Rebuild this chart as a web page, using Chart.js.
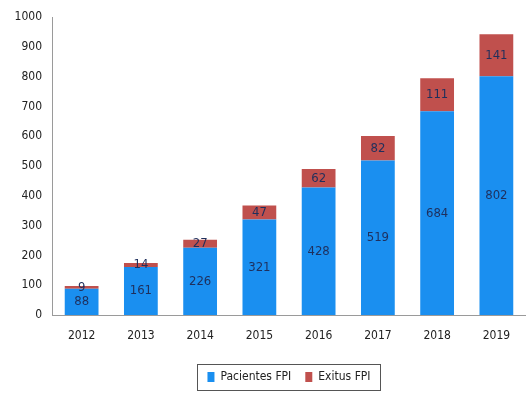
<!DOCTYPE html>
<html lang="es">
<head>
<meta charset="UTF-8">
<title>Pacientes FPI / Exitus FPI</title>
<script src="https://cdn.jsdelivr.net/npm/chart.js"></script>
<style>
    * { margin: 0; padding: 0; box-sizing: border-box; }
    body { background: #fff; width: 526px; height: 397px; overflow: hidden; }
    #chart { display: block; }
</style>
</head>
<body>
<canvas id="chart" width="526" height="397"></canvas>
<script>
    const years = ["2012", "2013", "2014", "2015", "2016", "2017", "2018", "2019"];
    const pacientes = [88, 161, 226, 321, 428, 519, 684, 802];
    const exitus = [9, 14, 27, 47, 62, 82, 111, 141];
    const yTicks = [0, 100, 200, 300, 400, 500, 600, 700, 800, 900, 1000];

    const FONT = "'Liberation Sans Narrow', 'DejaVu Sans Condensed', sans-serif";

    // writes each value inside its bar segment
    const segmentLabels = {
        id: "segmentLabels",
        afterDatasetsDraw(chart) {
            const ctx = chart.ctx;
            ctx.save();
            ctx.fillStyle = "#1f2f5c";
            ctx.font = "13px " + FONT;
            ctx.textAlign = "center";
            ctx.textBaseline = "middle";
            chart.data.datasets.forEach((ds, i) => {
                chart.getDatasetMeta(i).data.forEach((bar, j) => {
                    const mid = (bar.y + bar.base) / 2;
                    ctx.fillText(ds.data[j], bar.x, mid);
                });
            });
            ctx.restore();
        }
    };

    // centre the legend under the plot area instead of the whole canvas
    const legendShift = {
        id: "legendShift",
        afterLayout(chart) {
            const lg = chart.legend;
            const dx = (chart.chartArea.left + chart.chartArea.right) / 2 - (lg.left + lg.right) / 2;
            lg.left += dx;
            lg.right += dx;
        }
    };

    // thin frame round the legend
    const legendFrame = {
        id: "legendFrame",
        afterDraw(chart) {
            const boxes = chart.legend.legendHitBoxes;
            if (!boxes || !boxes.length) return;
            const left = Math.min(...boxes.map(b => b.left)) - 10;
            const right = Math.max(...boxes.map(b => b.left + b.width)) + 10;
            const top = Math.min(...boxes.map(b => b.top)) - 7;
            const bottom = Math.max(...boxes.map(b => b.top + b.height)) + 7;
            const ctx = chart.ctx;
            ctx.save();
            ctx.strokeStyle = "#555";
            ctx.lineWidth = 1;
            ctx.strokeRect(Math.round(left) + 0.5, Math.round(top) + 0.5, Math.round(right - left), Math.round(bottom - top));
            ctx.restore();
        }
    };

    new Chart(document.getElementById("chart"), {
        type: "bar",
        data: {
            labels: years,
            datasets: [
                { label: "Pacientes FPI", data: pacientes, backgroundColor: "#1a8ff0" },
                { label: "Exitus FPI", data: exitus, backgroundColor: "#c0504d" }
            ]
        },
        options: {
            responsive: false,
            animation: false,
            layout: { padding: { top: 8, right: 0, bottom: 4, left: 0 } },
            datasets: { bar: { categoryPercentage: 1, barPercentage: 0.57 } },
            plugins: {
                tooltip: { enabled: false },
                legend: {
                    position: "bottom",
                    labels: {
                        boxWidth: 7,
                        boxHeight: 10,
                        padding: 14,
                        color: "#222",
                        font: { family: FONT, size: 12 }
                    }
                }
            },
            scales: {
                x: {
                    stacked: true,
                    grid: { display: false, drawTicks: false },
                    border: { color: "#9a9a9a", width: 1 },
                    ticks: { color: "#222", padding: 14, font: { family: FONT, size: 12 } },
                    afterFit(scale) { scale.height = 42; }
                },
                y: {
                    stacked: true,
                    min: 0,
                    max: 1000,
                    grid: { display: false, drawTicks: false },
                    border: { color: "#9a9a9a", width: 1 },
                    afterBuildTicks(scale) { scale.ticks = yTicks.map(v => ({ value: v })); },
                    ticks: {
                        color: "#222",
                        padding: 10,
                        font: { family: FONT, size: 12 },
                        callback: v => String(v)
                    },
                    afterFit(scale) { scale.width = 52; }
                }
            }
        },
        plugins: [segmentLabels, legendShift, legendFrame]
    });
</script>
</body>
</html>
